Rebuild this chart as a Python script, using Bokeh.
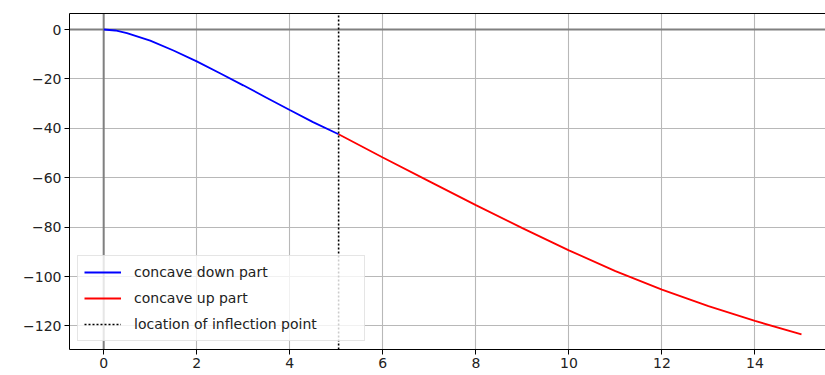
from bokeh.plotting import figure
from bokeh.models import (Range1d, FixedTicker, LinearAxis, Span, Legend, LegendItem,
                          CustomJSTickFormatter, Grid)
from bokeh.embed import file_html
from bokeh.resources import INLINE

# ---- data ----
down_x = [0, 0.25, 0.5, 1, 1.5, 2, 2.5, 3, 3.5, 4, 4.5, 5.05]
down_y = [0, -0.4, -1.5, -4.5, -8.5, -12.9, -17.7, -22.6, -27.6, -32.6, -37.5, -42.4]
up_x = [5.05, 6, 7, 8, 9, 10, 11, 12, 13, 14, 15]
up_y = [-42.4, -51.8, -61.5, -71.1, -80.4, -89.4, -97.8, -105.3, -112.0, -118.0, -123.4]
inflection_x = 5.05
x_ticks = [0, 2, 4, 6, 8, 10, 12, 14]
y_ticks = [-120, -100, -80, -60, -40, -20, 0]
labels = ["concave down part", "concave up part", "location of inflection point"]

x_lo, x_hi = -0.735, 15.516
y_lo, y_hi = -129.55, 6.48

FONT = "DejaVu Sans"

p = figure(width=825, height=375, output_backend="svg", toolbar_location=None,
           x_range=Range1d(x_lo, x_hi), y_range=Range1d(y_lo, y_hi),
           min_border_left=69, min_border_right=0, min_border_top=13, min_border_bottom=26,
           x_axis_type=None, y_axis_type=None)
p.outline_line_color = None
p.background_fill_color = "white"

fmt = CustomJSTickFormatter(code="return tick < 0 ? '\u2212' + (-tick) : String(tick);")

xaxis = LinearAxis(ticker=FixedTicker(ticks=x_ticks), formatter=fmt)
yaxis = LinearAxis(ticker=FixedTicker(ticks=y_ticks), formatter=fmt)
for ax in (xaxis, yaxis):
    ax.major_label_text_font = FONT
    ax.major_label_text_font_size = "14px"
    ax.major_label_text_color = "#222222"
    ax.major_tick_out = 5
    ax.major_tick_in = 0
    ax.minor_tick_line_color = None
    ax.major_tick_line_color = "black"
    ax.axis_line_color = "black"
    ax.axis_line_width = 1
    ax.major_label_standoff = 3
p.add_layout(xaxis, "below")
p.add_layout(yaxis, "left")

top = LinearAxis(ticker=FixedTicker(ticks=[]), major_tick_out=0, major_tick_in=0,
                 minor_tick_line_color=None, major_label_standoff=0,
                 axis_line_color="black", axis_line_width=1)
p.add_layout(top, "above")

for dim, ticks in ((0, x_ticks), (1, y_ticks)):
    p.add_layout(Grid(dimension=dim, ticker=FixedTicker(ticks=ticks),
                      grid_line_color="#b8b8b8", grid_line_width=1.1))

p.add_layout(Span(location=0, dimension="width", line_color="#808080", line_width=2, level="underlay"))
p.add_layout(Span(location=0, dimension="height", line_color="#808080", line_width=2, level="underlay"))

r1 = p.line(down_x, down_y, line_color="blue", line_width=1.8)
r2 = p.line(up_x, up_y, line_color="red", line_width=1.8)
r3 = p.line([inflection_x, inflection_x], [y_lo, y_hi], line_color="black",
            line_width=1.6, line_dash="2 2")

legend = Legend(items=[LegendItem(label=labels[0], renderers=[r1]),
                       LegendItem(label=labels[1], renderers=[r2]),
                       LegendItem(label=labels[2], renderers=[r3])],
                location=(8, 8))
legend.label_text_font = FONT
legend.label_text_font_size = "14px"
legend.label_text_color = "#222222"
legend.glyph_width = 37
legend.glyph_height = 20
legend.label_height = 20
legend.label_width = 224
legend.label_standoff = 13
legend.spacing = 6
legend.padding = 6
legend.margin = 0
legend.border_line_color = "#cccccc"
legend.border_line_width = 1
legend.background_fill_alpha = 0.8
p.add_layout(legend)

open("out.html", "w").write(file_html(p, INLINE))
